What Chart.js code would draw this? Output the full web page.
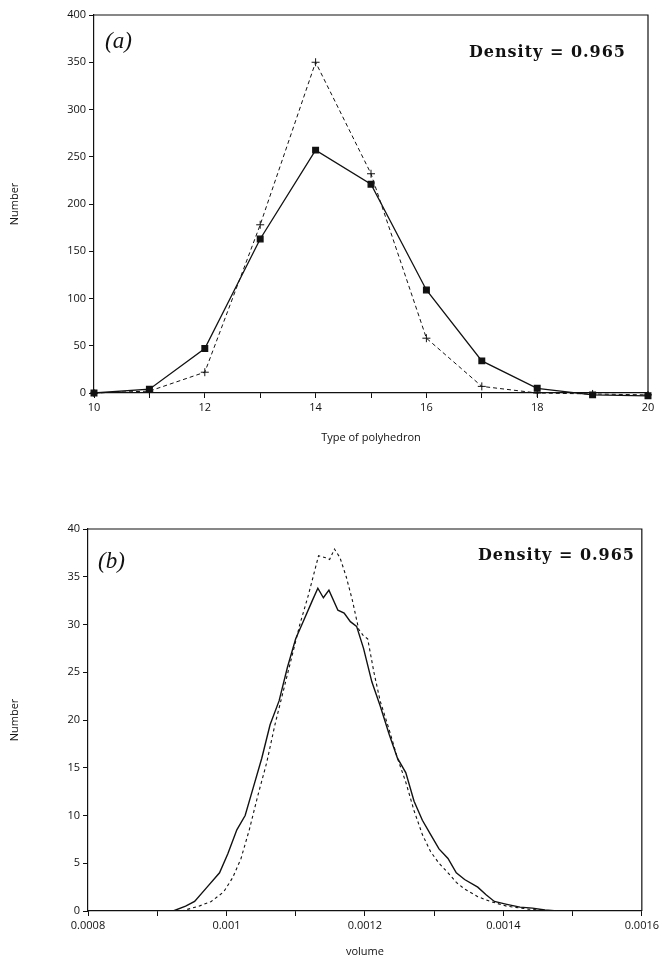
<!DOCTYPE html>
<html>
<head>
<meta charset="utf-8">
<script src="https://cdn.jsdelivr.net/npm/chart.js@4/dist/chart.umd.min.js"></script>
<style>
  body { margin: 0; background: #fff; width: 662px; height: 961px; position: relative; overflow: hidden; }
  canvas { position: absolute; left: 0; }
  #chartA { top: 0; }
  #chartB { top: 470px; }
  .tag { position: absolute; font-family: "Liberation Serif", serif; font-style: italic; font-size: 23px; color: #111; }
  .dens { position: absolute; font-family: "DejaVu Serif", serif; font-weight: bold; font-size: 16px; letter-spacing: 1px; color: #111; white-space: nowrap; }
</style>
</head>
<body>
<canvas id="chartA" width="662" height="460"></canvas>
<canvas id="chartB" width="662" height="491"></canvas>
<div class="tag" style="left:105px; top:28px;">(<span>a</span>)</div>
<div class="dens" style="right:36px; top:42px;">Density = 0.965</div>
<div class="tag" style="left:98px; top:548px;">(<span>b</span>)</div>
<div class="dens" style="right:27px; top:545px;">Density = 0.965</div>
<script>
// (a) nombre de polyedres par type
const polyTypes = [10, 11, 12, 13, 14, 15, 16, 17, 18, 19, 20];
const solidCounts = [0, 4, 47, 163, 257, 221, 109, 34, 5, -2, -3];
const dashedCounts = [0, 2, 22, 178, 350, 232, 58, 7, 0, -1, -2];

// (b) distribution des volumes
const solidVol = [0.0008, 0.00092, 0.000923, 0.000941, 0.000954, 0.000972, 0.00099, 0.001002, 0.001015, 0.001027,
  0.001039, 0.001051, 0.001063, 0.001076, 0.001088, 0.0011, 0.001112, 0.001124, 0.001132, 0.00114,
  0.001148, 0.001161, 0.00117, 0.001179, 0.001188, 0.001198, 0.00121, 0.001222, 0.001235, 0.001247,
  0.001259, 0.001271, 0.001283, 0.001295, 0.001307, 0.00132, 0.001332, 0.001344, 0.001363, 0.001375,
  0.001387, 0.001405, 0.001424, 0.001442, 0.00146, 0.001478, 0.00152];
const solidNum = [0, 0, 0, 0.5, 1, 2.5, 4, 6, 8.5, 10,
  13, 16, 19.5, 22, 25.5, 28.5, 30.5, 32.5, 33.8, 32.8,
  33.6, 31.5, 31.2, 30.3, 29.8, 27.5, 24, 21.5, 18.5, 16,
  14.5, 11.5, 9.5, 8, 6.5, 5.5, 4, 3.3, 2.5, 1.7,
  1, 0.7, 0.4, 0.3, 0.1, 0, 0];
const dashedVol = [0.000935, 0.00096, 0.000978, 0.000996, 0.001009, 0.001021, 0.001033, 0.001045, 0.001058, 0.00107,
  0.001082, 0.001094, 0.001106, 0.001118, 0.001127, 0.001133, 0.001143, 0.001149, 0.001156, 0.001164,
  0.001173, 0.001182, 0.001191, 0.001198, 0.001204, 0.001213, 0.001222, 0.001235, 0.001247, 0.001259,
  0.001271, 0.001283, 0.001295, 0.001307, 0.00132, 0.001332, 0.001344, 0.001363, 0.001381, 0.001405,
  0.001436, 0.001466, 0.0015];
const dashedNum = [0, 0.5, 1, 2, 3.5, 5.5, 8.5, 12, 15.5, 19.5,
  23, 26.5, 30, 33, 35.5, 37.2, 37, 36.8, 37.9, 37,
  35, 32.5, 29.5, 28.8, 28.5, 25, 22, 19, 16, 13.5,
  10.5, 8, 6.2, 5, 4, 3, 2.3, 1.5, 1, 0.5,
  0.2, 0, 0];

const ink = '#111';
const tickFont = { family: 'Open Sans', size: 11 };

// cadre haut + droite
const frame = {
  id: 'frame',
  afterDraw(chart) {
    const { ctx, chartArea: a } = chart;
    ctx.save();
    ctx.strokeStyle = ink;
    ctx.lineWidth = 1.2;
    ctx.beginPath();
    ctx.moveTo(a.left, a.top);
    ctx.lineTo(a.right, a.top);
    ctx.lineTo(a.right, a.bottom);
    ctx.stroke();
    ctx.restore();
  }
};

function axis(extra) {
  return Object.assign({
    type: 'linear',
    grid: { drawOnChartArea: false, drawTicks: true, tickLength: 5, color: ink, lineWidth: 1 },
    border: { display: true, color: ink, width: 1.2 },
    ticks: { color: ink, font: tickFont, autoSkip: false, maxRotation: 0, padding: 3 }
  }, extra);
}

function pts(xs, ys) {
  return xs.map((x, i) => ({ x: x, y: ys[i] }));
}

new Chart(document.getElementById('chartA'), {
  type: 'line',
  data: {
    datasets: [
      {
        data: pts(polyTypes, solidCounts),
        borderColor: ink, backgroundColor: ink, borderWidth: 1.3,
        pointStyle: 'rect', pointRadius: 4, clip: false
      },
      {
        data: pts(polyTypes, dashedCounts),
        borderColor: ink, backgroundColor: ink, borderWidth: 1, borderDash: [4, 3],
        pointStyle: 'cross', pointRadius: 4, pointBorderWidth: 1, clip: false
      }
    ]
  },
  options: {
    responsive: false,
    animation: false,
    layout: { padding: { left: 0, right: 14, top: 15, bottom: 0 } },
    plugins: { legend: { display: false }, tooltip: { enabled: false } },
    scales: {
      x: axis({
        min: 10, max: 20,
        ticks: Object.assign({}, axis().ticks, {
          stepSize: 1,
          callback: v => (v % 2 === 0 ? String(v) : '')
        }),
        title: { display: true, text: 'Type of polyhedron', color: ink, font: tickFont, padding: { top: 0, bottom: 16 } },
        afterFit: s => { s.height = 67; }
      }),
      y: axis({
        min: 0, max: 400,
        ticks: Object.assign({}, axis().ticks, { stepSize: 50 }),
        title: { display: true, text: 'Number', color: ink, font: tickFont, padding: { top: 8, bottom: 0 } },
        afterFit: s => { s.width = 94; }
      })
    }
  },
  plugins: [frame]
});

new Chart(document.getElementById('chartB'), {
  type: 'line',
  data: {
    datasets: [
      {
        data: pts(solidVol, solidNum),
        borderColor: ink, borderWidth: 1.4, pointRadius: 0
      },
      {
        data: pts(dashedVol, dashedNum),
        borderColor: ink, borderWidth: 1.1, borderDash: [3, 3], pointRadius: 0
      }
    ]
  },
  options: {
    responsive: false,
    animation: false,
    layout: { padding: { left: 0, right: 20, top: 59, bottom: 0 } },
    plugins: { legend: { display: false }, tooltip: { enabled: false } },
    scales: {
      x: axis({
        min: 0.0008, max: 0.0016,
        ticks: Object.assign({}, axis().ticks, {
          stepSize: 0.0001,
          callback: v => (Math.round(v * 10000) % 2 === 0 ? String(+v.toFixed(4)) : '')
        }),
        title: { display: true, text: 'volume', color: ink, font: tickFont, padding: { top: 0, bottom: 3 } },
        afterFit: s => { s.height = 50; }
      }),
      y: axis({
        min: 0, max: 40,
        ticks: Object.assign({}, axis().ticks, { stepSize: 5 }),
        title: { display: true, text: 'Number', color: ink, font: tickFont, padding: { top: 8, bottom: 0 } },
        afterFit: s => { s.width = 88; }
      })
    }
  },
  plugins: [frame]
});
</script>
</body>
</html>
